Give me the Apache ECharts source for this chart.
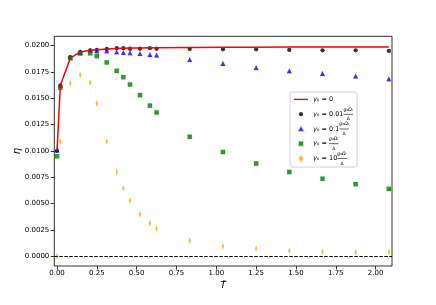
<!DOCTYPE html>
<html><head><meta charset="utf-8">
<script src="https://cdn.jsdelivr.net/npm/echarts@6/dist/echarts.min.js"></script>
<style>html,body{margin:0;padding:0;background:#fff}#c{width:436px;height:305px}</style>
</head><body><div id="c"></div>
<script>
// ---- data ----
const xValues = [0, 0.0208, 0.0833, 0.1458, 0.2083, 0.25, 0.3125, 0.375, 0.4167, 0.4583, 0.5208, 0.5833, 0.625, 0.8333, 1.0417, 1.25, 1.4583, 1.6667, 1.875, 2.0833];
const etaGamma0 = [0.0100, 0.0162, 0.0188, 0.0194, 0.01955, 0.0196, 0.01968, 0.01972, 0.01975, 0.01977, 0.01978, 0.0198, 0.0198, 0.01982, 0.01984, 0.01985, 0.01986, 0.01986, 0.01987, 0.01987];
const etaGamma001 = [0.0100, 0.0162, 0.0189, 0.0194, 0.01955, 0.0196, 0.01968, 0.01975, 0.01975, 0.0197, 0.0197, 0.01975, 0.0197, 0.01968, 0.01965, 0.01965, 0.01959, 0.01955, 0.01955, 0.01949];
const etaGamma01 = [0.0101, 0.0162, 0.0189, 0.01934, 0.01955, 0.01949, 0.0195, 0.0194, 0.01934, 0.0193, 0.01924, 0.01915, 0.0191, 0.01867, 0.0183, 0.0179, 0.0176, 0.01735, 0.0171, 0.01684];
const etaGamma1 = [0.0095, 0.0160, 0.0188, 0.01924, 0.01927, 0.0190, 0.0184, 0.0176, 0.0170, 0.0163, 0.0153, 0.0143, 0.01365, 0.01134, 0.0099, 0.0088, 0.0080, 0.00736, 0.00685, 0.0064];
const etaGamma10 = [0.0000, 0.0109, 0.0164, 0.0172, 0.0165, 0.0145, 0.0109, 0.0080, 0.00645, 0.00527, 0.0040, 0.00313, 0.00265, 0.00148, 0.00095, 0.00072, 0.00053, 0.00044, 0.00038, 0.00041];
const yTicks = [0, 0.0025, 0.005, 0.0075, 0.01, 0.0125, 0.015, 0.0175, 0.02];
const xTicks = [0, 0.25, 0.5, 0.75, 1, 1.25, 1.5, 1.75, 2];
const seriesNames = ['g0', 'g001', 'g01', 'g1', 'g10'];
const legendCoefs = ['0', '0.01', '0.1', '', '10'];
const numeratorText = 'g₀Ωₗ';
const denominatorText = 'Δ';

// ---- helpers ----
const FF = 'DejaVu Sans';
const ctx = document.createElement('canvas').getContext('2d');
function tw(t, size, italic) { ctx.font = (italic ? 'italic ' : '') + size + 'px "' + FF + '"'; return ctx.measureText(t).width; }
const LF = 6.5, SF = 4.6;
const rich = {
  g: {fontSize: LF, fontStyle: 'italic', fontFamily: FF, color: '#000', lineHeight: 5.4},
  m: {fontSize: LF, fontFamily: FF, color: '#000', lineHeight: 5.4},
  n: {fontSize: SF, fontStyle: 'italic', fontFamily: FF, color: '#000', lineHeight: 4.4},
  d: {fontSize: SF, fontFamily: FF, color: '#000', lineHeight: 4.4},
  e: {fontSize: SF, fontFamily: FF, color: 'rgba(0,0,0,0)', lineHeight: 4.4}
};
const numW = tw(numeratorText, SF, true) + 0.5;
const denW = tw(denominatorText, SF, false);
const legendText = {};
seriesNames.forEach((nm, i) => {
  const c = legendCoefs[i];
  if (i === 0) { legendText[nm] = '{e|.}\n{g|γ}{m|₀ = ' + c + '}\n{e|.}'; return; }
  const mainW = tw('γ', LF, true) + tw('₀ = ' + c, LF, false);
  rich['sp' + i] = {width: mainW, fontSize: SF, color: 'rgba(0,0,0,0)', lineHeight: 4.4};
  rich['sd' + i] = {width: mainW + (numW - denW) / 2, fontSize: SF, color: 'rgba(0,0,0,0)', lineHeight: 4.4};
  rich['bar' + i] = {width: numW, height: 0.6, fontSize: 1, backgroundColor: '#000', verticalAlign: 'middle', lineHeight: 5.4};
  legendText[nm] = '{sp' + i + '|.}{n|' + numeratorText + '}\n{g|γ}{m|₀ = ' + c + '}{bar' + i + '| }\n{sd' + i + '|.}{d|' + denominatorText + '}';
});
// legend icons (bounding box 14x6, shape centred)
const legendIcons = [
  'path://M0,0M14,6M0,2.3L14,2.3L14,3.7L0,3.7Z',
  'path://M0,0M14,6M4.9,3A2.1,2.1 0 1 1 9.1,3A2.1,2.1 0 1 1 4.9,3Z',
  'path://M0,0M14,6M7,0.8L9.3,4.9L4.7,4.9Z',
  'path://M0,0M14,6M5,0.9L9,0.9L9,4.9L5,4.9Z',
  'path://M0,0M14,6M7,-0.3L8.8,2.9L7,6.1L5.2,2.9Z'
];

function pairs(ys) { return xValues.map((x, i) => [x, ys[i]]); }
const tickFont = {fontSize: 7, fontFamily: FF, color: '#000'};

const chart = echarts.init(document.getElementById('c'), null, {renderer: 'canvas'});
chart.setOption({
  animation: false,
  backgroundColor: '#fff',
  grid: {left: 54.3, right: 44, top: 36.3, bottom: 39, show: true, borderColor: '#333', borderWidth: 1, containLabel: false, outerBoundsMode: 'none'},
  xAxis: {
    type: 'value', min: -0.017, max: 2.103,
    axisLine: {show: false, onZero: false},
    axisTick: {show: true, length: 3.5, customValues: xTicks, lineStyle: {color: '#333', width: 1}},
    axisLabel: {customValues: xTicks, formatter: v => v.toFixed(2), margin: 4, ...tickFont},
    splitLine: {show: false},
    name: 'T̄', nameLocation: 'middle', nameGap: 15, nameMoveOverlap: false,
    nameTextStyle: {fontSize: 9.5, fontStyle: 'italic', fontFamily: FF, color: '#000'}
  },
  yAxis: {
    type: 'value', min: -0.00092, max: 0.02088,
    axisLine: {show: false, onZero: false},
    axisTick: {show: true, length: 3.5, customValues: yTicks, lineStyle: {color: '#333', width: 1}},
    axisLabel: {customValues: yTicks, formatter: v => v.toFixed(4), margin: 5, ...tickFont},
    splitLine: {show: false},
    name: 'η', nameLocation: 'middle', nameGap: 32, nameRotate: 90, nameMoveOverlap: false,
    nameTextStyle: {fontSize: 10, fontStyle: 'italic', fontFamily: FF, color: '#000'}
  },
  legend: {
    orient: 'vertical', left: 290, top: 92, padding: [0, 4, 1, 3], itemGap: 0,
    itemWidth: 14, itemHeight: 6, selectedMode: false,
    backgroundColor: 'rgba(255,255,255,0.85)', borderColor: '#d0d0d0', borderWidth: 1, borderRadius: 2,
    data: seriesNames.map((n, i) => ({name: n, icon: legendIcons[i]})),
    formatter: n => legendText[n],
    textStyle: {rich: rich}
  },
  series: [
    {name: 'g0', type: 'line', data: pairs(etaGamma0), symbol: 'none', showSymbol: false, lineStyle: {color: '#ff0000', width: 1.5}, itemStyle: {color: '#ff0000'}},
    {name: 'g001', type: 'scatter', data: pairs(etaGamma001), symbol: 'circle', symbolSize: 4.3,
      itemStyle: {color: '#000000'}},
    {name: 'g01', type: 'scatter', data: pairs(etaGamma01), symbol: 'triangle', symbolSize: 4.8,
      itemStyle: {color: '#0000ff', borderColor: 'rgba(0,0,255,0.25)', borderWidth: 0.6}},
    {name: 'g1', type: 'scatter', data: pairs(etaGamma1), symbol: 'rect', symbolSize: 4.3,
      itemStyle: {color: '#008000', borderColor: 'rgba(0,128,0,0.3)', borderWidth: 0.9}},
    {name: 'g10', type: 'scatter', data: pairs(etaGamma10), symbol: 'path://M0,-1L0.6,0L0,1L-0.6,0Z', symbolSize: [3.6, 6], symbolKeepAspect: true,
      itemStyle: {color: '#ffa500', borderColor: 'rgba(255,165,0,0.35)', borderWidth: 0.8},
      markLine: {silent: true, symbol: ['none', 'none'], label: {show: false},
        lineStyle: {color: '#000', type: [3.5, 1.5], width: 1}, data: [{yAxis: 0}]}}
  ]
});
</script>
</body></html>
